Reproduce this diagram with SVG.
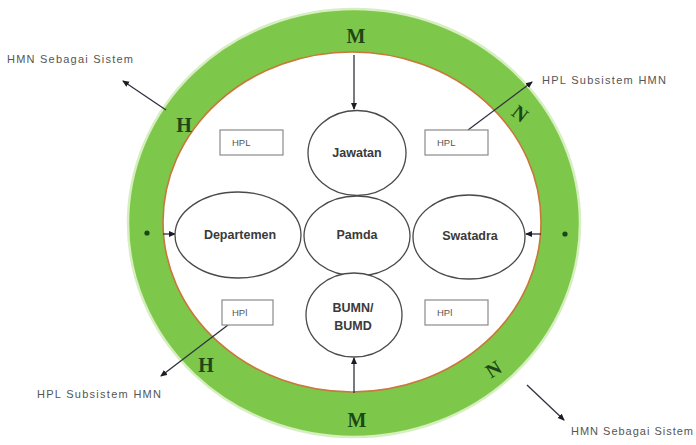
<svg xmlns="http://www.w3.org/2000/svg" width="696" height="445" viewBox="0 0 696 445">
<style>
.node{fill:#fff;stroke:#4a4a4a;stroke-width:1.3}
.box{fill:#fff;stroke:#8a8a8a;stroke-width:1.2}
.nt{font-family:"Liberation Sans",Arial,sans-serif;font-weight:bold;font-size:12.5px;fill:#3a3a3a;text-anchor:middle}
.bt{font-family:"Liberation Sans",Arial,sans-serif;font-size:9.5px;fill:#555}
.lab{font-family:"Liberation Sans",Arial,sans-serif;font-size:11px;fill:#555}
.let{font-family:"Liberation Serif","Times New Roman",serif;font-weight:bold;font-size:20px;fill:#1d4716;text-anchor:middle}
.con{stroke:#2f3140;stroke-width:1.3;fill:none;marker-end:url(#ah)}
</style>
<defs>
<marker id="ah" markerUnits="userSpaceOnUse" markerWidth="7" markerHeight="7" refX="6" refY="3.5" orient="auto">
<path d="M0,0.5 L7,3.5 L0,6.5 z" fill="#1c1c24"/>
</marker>
</defs>
<rect width="696" height="445" fill="#fff"/>
<g id="ring">
<ellipse cx="354" cy="223" rx="226" ry="214" fill="#7dc84a" stroke="#d6eec0" stroke-width="2.5"/>
<ellipse cx="352" cy="222" rx="189" ry="170" fill="#fff" stroke="#c8783a" stroke-width="1.6"/>
<circle cx="147" cy="233" r="2.6" fill="#1d4716"/>
<circle cx="565" cy="234" r="2.6" fill="#1d4716"/>
<text class="let" x="356" y="43">M</text>
<text class="let" x="357" y="427">M</text>
<text class="let" x="184" y="132">H</text>
<text class="let" x="206" y="372">H</text>
<text class="let" x="0" y="0" transform="translate(516,119) rotate(38)">N</text>
<text class="let" x="0" y="0" transform="translate(497,375) rotate(-32)">N</text>
</g>
<g id="connectors">
<line class="con" x1="354" y1="55" x2="354" y2="109"/>
<line class="con" x1="354" y1="393" x2="354" y2="358"/>
<line class="con" x1="163" y1="234" x2="175" y2="234"/>
<line class="con" x1="541" y1="234" x2="526" y2="234"/>
<line class="con" x1="166" y1="110" x2="123" y2="81"/>
<line class="con" x1="468" y1="130" x2="532" y2="82"/>
<line class="con" x1="228" y1="325" x2="161" y2="376"/>
<line class="con" x1="527" y1="385" x2="564" y2="420"/>
</g>
<g id="node-jawatan">
<ellipse class="node" cx="357" cy="153" rx="49" ry="42.5"/>
<text class="nt" x="357" y="157">Jawatan</text>
</g>
<g id="node-departemen">
<ellipse class="node" cx="238" cy="235" rx="63" ry="43"/>
<text class="nt" x="240" y="239">Departemen</text>
</g>
<g id="node-pamda">
<ellipse class="node" cx="357" cy="236" rx="53" ry="40"/>
<text class="nt" x="357" y="239">Pamda</text>
</g>
<g id="node-swatadra">
<ellipse class="node" cx="469" cy="237" rx="56" ry="42"/>
<text class="nt" x="470" y="240">Swatadra</text>
</g>
<g id="node-bumn">
<ellipse class="node" cx="354" cy="315" rx="48" ry="42"/>
<text class="nt" x="353" y="312">BUMN/</text>
<text class="nt" x="353" y="330">BUMD</text>
</g>
<g id="hpl-tl">
<rect class="box" x="220" y="130" width="63" height="25"/>
<text class="bt" x="232" y="146">HPL</text>
</g>
<g id="hpl-tr">
<rect class="box" x="425" y="130" width="63" height="25"/>
<text class="bt" x="437" y="146">HPL</text>
</g>
<g id="hpl-bl">
<rect class="box" x="222" y="300" width="51" height="25"/>
<text class="bt" x="232" y="316">HPl</text>
</g>
<g id="hpl-br">
<rect class="box" x="425" y="300" width="63" height="25"/>
<text class="bt" x="437" y="316">HPl</text>
</g>
<g id="labels">
<text class="lab" x="7" y="63" textLength="126" lengthAdjust="spacing">HMN Sebagai Sistem</text>
<text class="lab" x="542" y="84" textLength="124" lengthAdjust="spacing">HPL Subsistem HMN</text>
<text class="lab" x="37" y="398" textLength="124" lengthAdjust="spacing">HPL Subsistem HMN</text>
<text class="lab" x="571" y="435" textLength="122" lengthAdjust="spacing">HMN Sebagai Sistem</text>
</g>
</svg>
